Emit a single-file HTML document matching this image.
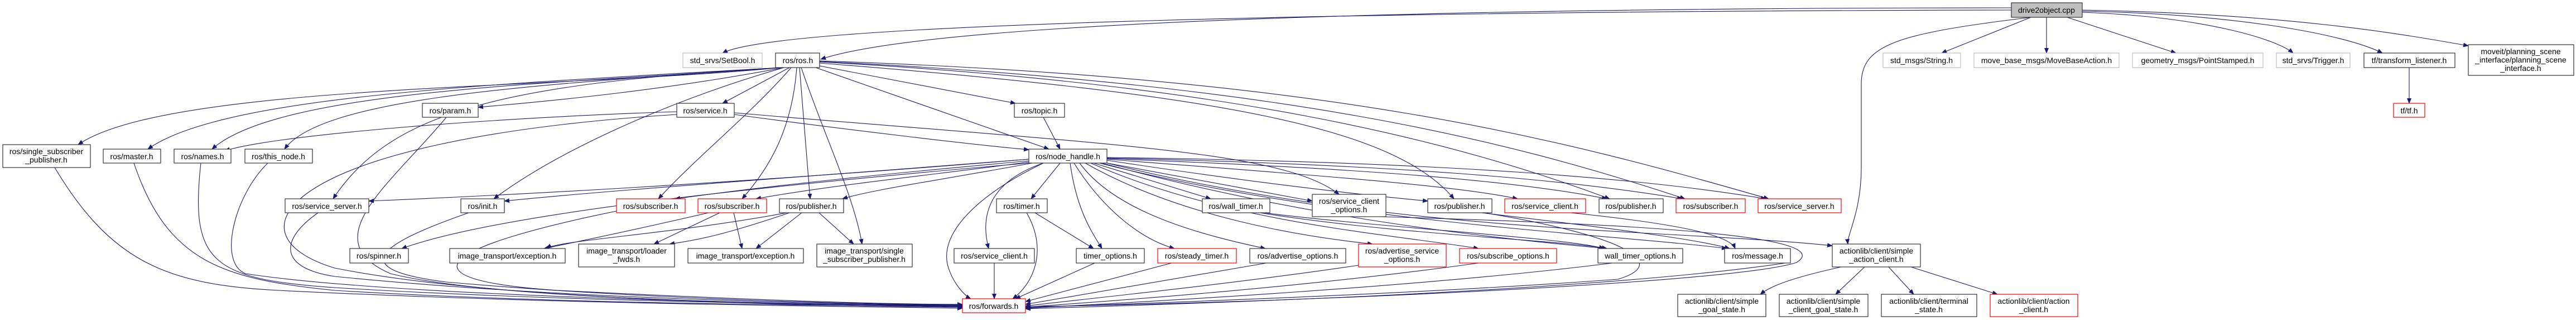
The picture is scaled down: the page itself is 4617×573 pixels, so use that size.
<!DOCTYPE html>
<html><head><meta charset="utf-8"><style>
html,body{margin:0;padding:0;background:#fff;}
svg{display:block;}
text{font-family:"Liberation Sans",sans-serif;font-size:14px;fill:#000;text-anchor:middle;}
.e{fill:none;stroke:#191970;stroke-width:1.1;marker-end:url(#a);}
.b{fill:#fff;stroke:#333;stroke-width:1.2;}
.r{fill:#fff;stroke:#ff0000;stroke-width:1.2;}
.g{fill:#fff;stroke:#bfbfbf;stroke-width:1.2;}
</style></head><body>
<svg width="4617" height="573" viewBox="0 0 4617 573" xmlns="http://www.w3.org/2000/svg">
<defs><marker id="a" markerWidth="10" markerHeight="8" refX="9" refY="4" orient="auto" markerUnits="userSpaceOnUse"><path d="M0,0 L10,4 L0,8 z" fill="#191970"/></marker></defs>
<g>
<!-- drive2object edges -->
<path class="e" d="M3605,18 C2500,20 1400,40 1295,95"/>
<path class="e" d="M3605,14 C2800,14 1700,30 1471,106"/>
<path class="e" d="M3640,31 L3480,95"/>
<path class="e" d="M3668,31 L3668,95"/>
<path class="e" d="M3705,31 L3900,95"/>
<path class="e" d="M3732,22 C3950,30 4080,70 4110,95"/>
<path class="e" d="M3732,20 C4000,25 4200,60 4270,95"/>
<path class="e" d="M3732,18 C4100,25 4300,60 4424,82"/>
<path class="e" d="M3640,31 C3400,60 3336,80 3336,150 L3336,300 C3336,380 3310,420 3312,437"/>
<path class="e" d="M4318,121 L4318,185"/>
<!-- ros.h edges -->
<path class="e" d="M1400,121 C1000,160 300,150 140,259"/>
<path class="e" d="M1400,121 C900,150 400,170 265,267"/>
<path class="e" d="M1400,121 C1000,150 500,160 380,267"/>
<path class="e" d="M1400,121 C1000,150 580,170 510,267"/>
<path class="e" d="M1405,121 C1200,160 1000,180 857,192"/>
<path class="e" d="M1415,121 L1295,185"/>
<path class="e" d="M1400,121 C900,150 700,200 597,356"/>
<path class="e" d="M1405,121 C1200,180 1000,270 885,356"/>
<path class="e" d="M1418,121 C1350,200 1250,280 1180,356"/>
<path class="e" d="M1428,121 C1420,230 1380,300 1330,356"/>
<path class="e" d="M1433,121 L1452,356"/>
<path class="e" d="M1436,121 C1480,250 1530,350 1545,437"/>
<path class="e" d="M1469,118 L1820,185"/>
<path class="e" d="M1462,121 L1880,267"/>
<path class="e" d="M1469,113 C2200,170 2500,230 2606,356"/>
<path class="e" d="M1469,111 C2200,150 2600,250 2885,356"/>
<path class="e" d="M1469,110 C2300,150 2700,250 3020,356"/>
<path class="e" d="M1469,109 C2400,140 2800,250 3170,356"/>
<!-- service.h / param / topic -->
<path class="e" d="M1213,200 C900,210 500,240 403,270"/>
<path class="e" d="M1316,205 C1500,230 1750,260 1844,268"/>
<path class="e" d="M1316,202 C2000,260 2300,270 2400,348"/>
<path class="e" d="M1213,205 C500,250 400,420 600,480 C900,540 1500,548 1725,550"/>
<path class="e" d="M800,210 C700,330 560,430 700,490 C900,540 1500,546 1725,547"/>
<path class="e" d="M1870,210 L1900,267"/>
<!-- node_handle edges -->
<path class="e" d="M1844,285 C1300,330 900,350 661,360"/>
<path class="e" d="M1844,285 C1400,320 1100,340 904,360"/>
<path class="e" d="M1844,288 C1600,310 1400,330 1210,356"/>
<path class="e" d="M1844,290 C1700,310 1500,330 1355,356"/>
<path class="e" d="M1850,292 C1700,320 1560,340 1510,356"/>
<path class="e" d="M1844,292 C1400,330 900,380 720,445"/>
<path class="e" d="M1900,292 L1848,356"/>
<path class="e" d="M1870,292 C1760,330 1760,400 1772,445"/>
<path class="e" d="M1918,292 C1930,380 1960,420 1975,445"/>
<path class="e" d="M1925,292 C1980,380 2050,430 2105,445"/>
<path class="e" d="M1935,292 C2000,380 2150,420 2268,445"/>
<path class="e" d="M1945,292 C2100,380 2300,420 2460,437"/>
<path class="e" d="M1955,292 C2200,400 2500,420 2650,445"/>
<path class="e" d="M1960,292 L2170,356"/>
<path class="e" d="M1984,292 L2352,360"/>
<path class="e" d="M1984,287 C2200,320 2400,345 2559,360"/>
<path class="e" d="M1984,285 C2300,310 2600,330 2720,356"/>
<path class="e" d="M1984,284 C2400,300 2700,320 2880,356"/>
<path class="e" d="M1984,283 C2500,295 2800,320 3015,356"/>
<path class="e" d="M1984,282 C2600,290 2950,320 3165,356"/>
<path class="e" d="M1975,292 C2300,380 2600,420 2880,445"/>
<path class="e" d="M1970,292 C2400,400 2900,420 3095,445"/>
<path class="e" d="M1870,292 C1750,350 1680,420 1700,480 C1710,510 1730,530 1740,535"/>
<path class="e" d="M1984,292 C2500,420 3000,410 3284,440"/>
<!-- image_transport -->
<path class="e" d="M1270,381 C1100,420 1000,440 975,445"/>
<path class="e" d="M1290,381 L1172,437"/>
<path class="e" d="M1315,381 L1330,445"/>
<path class="e" d="M1410,381 C1200,420 1000,430 980,445"/>
<path class="e" d="M1415,381 C1300,420 1250,430 1200,437"/>
<path class="e" d="M1437,381 L1355,445"/>
<path class="e" d="M1468,381 L1530,437"/>
<!-- to forwards from left -->
<path class="e" d="M98,300 C200,470 300,510 500,520 C1000,545 1500,548 1725,552"/>
<path class="e" d="M240,292 C300,470 400,500 600,520 C1000,545 1500,546 1725,550"/>
<path class="e" d="M360,292 C340,470 380,500 600,515 C1000,540 1500,545 1725,549"/>
<path class="e" d="M480,292 C420,350 390,470 440,490 C700,530 1400,545 1725,548"/>
<path class="e" d="M570,381 C500,430 500,480 600,495 C1000,535 1500,545 1725,547"/>
<path class="e" d="M840,381 C700,430 600,480 800,505 C1200,540 1600,545 1725,546"/>
<path class="e" d="M1105,378 C800,440 700,500 1000,520 C1400,540 1600,545 1725,545"/>
<!-- timer etc -->
<path class="e" d="M1855,381 L1960,445"/>
<path class="e" d="M1840,381 C1880,450 1850,510 1815,535"/>
<path class="e" d="M2258,381 C2500,420 2800,430 2880,445"/>
<path class="e" d="M2265,381 C2500,410 2800,425 2875,445"/>
<path class="e" d="M1782,471 L1782,535"/>
<path class="e" d="M1962,471 L1820,535"/>
<path class="e" d="M2100,471 L1838,540"/>
<path class="e" d="M2270,471 L1838,545"/>
<path class="e" d="M2435,475 C2200,510 1900,540 1838,548"/>
<path class="e" d="M2650,471 C2300,520 1900,545 1838,550"/>
<path class="e" d="M2890,471 C2500,520 1900,548 1838,552"/>
<path class="e" d="M3200,471 C2800,530 1900,550 1838,553"/>
<path class="e" d="M2815,381 C3000,400 3100,420 3110,445"/>
<path class="e" d="M2655,381 C2900,410 3050,430 3100,445"/>
<path class="e" d="M2660,381 C2900,420 3000,470 2900,500 C2500,530 1900,548 1838,551"/>
<path class="e" d="M2475,388 C2900,400 3300,420 3220,470 C3100,510 2200,545 1838,549"/>
<!-- actionlib -->
<path class="e" d="M3300,478 C3200,500 3170,515 3155,527"/>
<path class="e" d="M3342,478 L3290,527"/>
<path class="e" d="M3385,478 L3430,527"/>
<path class="e" d="M3425,478 L3580,527"/>
</g>
<g>
<rect x="3605" y="5" width="127" height="26" fill="#bfbfbf" stroke="#333" stroke-width="1.2"/><text x="3668" y="23">drive2object.cpp</text>
<rect class="g" x="1224" y="95" width="142" height="26"/><text x="1295" y="113">std_srvs/SetBool.h</text>
<rect class="b" x="1390" y="95" width="79" height="26"/><text x="1430" y="113">ros/ros.h</text>
<rect class="g" x="3375" y="95" width="139" height="26"/><text x="3444" y="113">std_msgs/String.h</text>
<rect class="g" x="3538" y="95" width="260" height="26"/><text x="3668" y="113">move_base_msgs/MoveBaseAction.h</text>
<rect class="g" x="3822" y="95" width="234" height="26"/><text x="3939" y="113">geometry_msgs/PointStamped.h</text>
<rect class="g" x="4080" y="95" width="132" height="26"/><text x="4146" y="113">std_srvs/Trigger.h</text>
<rect class="b" x="4237" y="95" width="163" height="26"/><text x="4318" y="113">tf/transform_listener.h</text>
<rect class="b" x="4424" y="80" width="189" height="55"/><text x="4518" y="97">moveit/planning_scene</text><text x="4518" y="112">_interface/planning_scene</text><text x="4518" y="127">_interface.h</text>
<rect class="b" x="757" y="185" width="100" height="25"/><text x="807" y="203">ros/param.h</text>
<rect class="b" x="1213" y="185" width="103" height="25"/><text x="1264" y="203">ros/service.h</text>
<rect class="b" x="1818" y="185" width="90" height="25"/><text x="1863" y="203">ros/topic.h</text>
<rect class="r" x="4290" y="185" width="56" height="25"/><text x="4318" y="203">tf/tf.h</text>
<rect class="b" x="5" y="259" width="157" height="41"/><text x="83" y="276">ros/single_subscriber</text><text x="83" y="291">_publisher.h</text>
<rect class="b" x="185" y="267" width="103" height="25"/><text x="236" y="285">ros/master.h</text>
<rect class="b" x="312" y="267" width="102" height="25"/><text x="363" y="285">ros/names.h</text>
<rect class="b" x="439" y="267" width="121" height="25"/><text x="499" y="285">ros/this_node.h</text>
<rect class="b" x="1844" y="267" width="140" height="25"/><text x="1914" y="285">ros/node_handle.h</text>
<rect class="b" x="511" y="356" width="150" height="25"/><text x="586" y="374">ros/service_server.h</text>
<rect class="b" x="826" y="356" width="78" height="25"/><text x="865" y="374">ros/init.h</text>
<rect class="r" x="1105" y="356" width="123" height="25"/><text x="1166" y="374">ros/subscriber.h</text>
<rect class="r" x="1251" y="356" width="123" height="25"/><text x="1312" y="374">ros/subscriber.h</text>
<rect class="b" x="1397" y="356" width="115" height="25"/><text x="1454" y="374">ros/publisher.h</text>
<rect class="b" x="1786" y="356" width="91" height="25"/><text x="1831" y="374">ros/timer.h</text>
<rect class="b" x="2155" y="356" width="121" height="25"/><text x="2215" y="374">ros/wall_timer.h</text>
<rect class="b" x="2352" y="348" width="132" height="40"/><text x="2418" y="365">ros/service_client</text><text x="2418" y="380">_options.h</text>
<rect class="b" x="2559" y="356" width="115" height="25"/><text x="2616" y="374">ros/publisher.h</text>
<rect class="r" x="2697" y="356" width="145" height="25"/><text x="2769" y="374">ros/service_client.h</text>
<rect class="b" x="2866" y="356" width="115" height="25"/><text x="2923" y="374">ros/publisher.h</text>
<rect class="r" x="3004" y="356" width="124" height="25"/><text x="3066" y="374">ros/subscriber.h</text>
<rect class="r" x="3151" y="356" width="149" height="25"/><text x="3225" y="374">ros/service_server.h</text>
<rect class="b" x="627" y="445" width="105" height="26"/><text x="679" y="463">ros/spinner.h</text>
<rect class="b" x="806" y="445" width="207" height="26"/><text x="909" y="463">image_transport/exception.h</text>
<rect class="b" x="1037" y="437" width="172" height="41"/><text x="1123" y="454">image_transport/loader</text><text x="1123" y="469">_fwds.h</text>
<rect class="b" x="1233" y="445" width="207" height="26"/><text x="1336" y="463">image_transport/exception.h</text>
<rect class="b" x="1464" y="437" width="171" height="41"/><text x="1549" y="454">image_transport/single</text><text x="1549" y="469">_subscriber_publisher.h</text>
<rect class="b" x="1710" y="445" width="144" height="26"/><text x="1782" y="463">ros/service_client.h</text>
<rect class="b" x="1929" y="445" width="122" height="26"/><text x="1990" y="463">timer_options.h</text>
<rect class="r" x="2075" y="445" width="141" height="26"/><text x="2145" y="463">ros/steady_timer.h</text>
<rect class="b" x="2240" y="445" width="172" height="26"/><text x="2326" y="463">ros/advertise_options.h</text>
<rect class="r" x="2435" y="437" width="157" height="41"/><text x="2513" y="454">ros/advertise_service</text><text x="2513" y="469">_options.h</text>
<rect class="r" x="2616" y="445" width="174" height="26"/><text x="2703" y="463">ros/subscribe_options.h</text>
<rect class="b" x="2864" y="445" width="152" height="26"/><text x="2940" y="463">wall_timer_options.h</text>
<rect class="b" x="3091" y="445" width="118" height="26"/><text x="3150" y="463">ros/message.h</text>
<rect class="b" x="3284" y="437" width="158" height="41"/><text x="3363" y="454">actionlib/client/simple</text><text x="3363" y="469">_action_client.h</text>
<rect class="r" x="1725" y="535" width="113" height="25"/><text x="1781" y="553">ros/forwards.h</text>
<rect class="b" x="3007" y="527" width="158" height="40"/><text x="3086" y="544">actionlib/client/simple</text><text x="3086" y="559">_goal_state.h</text>
<rect class="b" x="3189" y="527" width="159" height="40"/><text x="3268" y="544">actionlib/client/simple</text><text x="3268" y="559">_client_goal_state.h</text>
<rect class="b" x="3372" y="527" width="171" height="40"/><text x="3457" y="544">actionlib/client/terminal</text><text x="3457" y="559">_state.h</text>
<rect class="r" x="3567" y="527" width="157" height="40"/><text x="3645" y="544">actionlib/client/action</text><text x="3645" y="559">_client.h</text>
</g>
</svg>
</body></html>
